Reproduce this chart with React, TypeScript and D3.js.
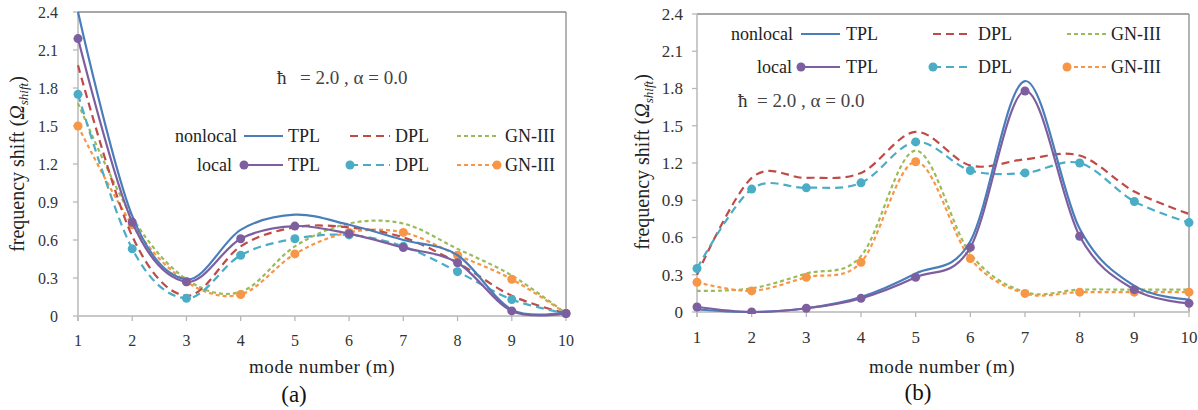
import React from "react";
import * as d3 from "d3";

const modes = [1, 2, 3, 4, 5, 6, 7, 8, 9, 10];
const yTicks = [0, 0.3, 0.6, 0.9, 1.2, 1.5, 1.8, 2.1, 2.4];

// Panel (a)
const aNonlocalTPL = [2.4, 0.79, 0.29, 0.68, 0.8, 0.72, 0.6, 0.48, 0.05, 0.03];
const aLocalTPL = [2.19, 0.74, 0.27, 0.61, 0.71, 0.65, 0.54, 0.42, 0.04, 0.02];
const aNonlocalDPL = [1.98, 0.63, 0.16, 0.55, 0.7, 0.7, 0.62, 0.42, 0.16, 0.02];
const aLocalDPL = [1.75, 0.53, 0.14, 0.48, 0.61, 0.64, 0.55, 0.35, 0.13, 0.02];
const aNonlocalGN = [1.68, 0.78, 0.29, 0.19, 0.55, 0.73, 0.73, 0.53, 0.32, 0.02];
const aLocalGN = [1.5, 0.72, 0.27, 0.17, 0.49, 0.66, 0.66, 0.48, 0.29, 0.02];

// Panel (b)
const bNonlocalTPL = [0.02, 0.0, 0.03, 0.12, 0.31, 0.57, 1.86, 0.67, 0.21, 0.1];
const bLocalTPL = [0.04, 0.0, 0.03, 0.11, 0.28, 0.52, 1.78, 0.61, 0.18, 0.07];
const bNonlocalDPL = [0.3, 1.08, 1.08, 1.12, 1.45, 1.18, 1.23, 1.26, 0.97, 0.79];
const bLocalDPL = [0.35, 0.99, 1.0, 1.04, 1.37, 1.14, 1.12, 1.2, 0.89, 0.72];
const bNonlocalGN = [0.17, 0.19, 0.31, 0.45, 1.3, 0.47, 0.16, 0.18, 0.18, 0.18];
const bLocalGN = [0.24, 0.17, 0.28, 0.4, 1.21, 0.43, 0.15, 0.16, 0.16, 0.16];

const seriesNames = ["TPL", "DPL", "GN-III"];
const groupNames = ["nonlocal", "local"];

const FONT = "Liberation Serif, Tinos, Times New Roman, DejaVu Serif, serif";

type Style = { color: string; dash: string | null; marker: boolean };
const styles: Record<string, Style> = {
  nonlocalTPL: { color: "#4a7ebb", dash: null, marker: false },
  localTPL: { color: "#7d5fa0", dash: null, marker: true },
  nonlocalDPL: { color: "#be4b48", dash: "8,5", marker: false },
  localDPL: { color: "#4bacc6", dash: "8,5", marker: true },
  "nonlocalGN-III": { color: "#9bbb59", dash: "4,3", marker: false },
  "localGN-III": { color: "#f79646", dash: "4,3", marker: true },
};

type Panel = {
  id: string;
  x0: number; x1: number; yTop: number; yBot: number;
  tickFont: number; tickLabelX: number; xTickY: number;
  series: { key: string; values: number[] }[];
  legend: {
    row1: number; row2: number; groupRight: [number, number];
    segs: [number, number][]; textX: number[]; markerAtRight: boolean[];
  };
  annot: { hx: number; tx: number; y: number };
  xTitle: { x: number; y: number };
  yTitle: { x: number; y: number };
  label: { text: string; x: number; y: number };
};

const panels: Panel[] = [
  {
    id: "a", x0: 78, x1: 566, yTop: 12, yBot: 316,
    tickFont: 16, tickLabelX: 58, xTickY: 346,
    series: [
      { key: "nonlocalGN-III", values: aNonlocalGN },
      { key: "localGN-III", values: aLocalGN },
      { key: "nonlocalDPL", values: aNonlocalDPL },
      { key: "localDPL", values: aLocalDPL },
      { key: "nonlocalTPL", values: aNonlocalTPL },
      { key: "localTPL", values: aLocalTPL },
    ],
    legend: {
      row1: 136, row2: 165, groupRight: [237, 232],
      segs: [[244, 283], [350, 390], [457, 497]], textX: [288, 395, 505],
      markerAtRight: [false, false, true],
    },
    annot: { hx: 277, tx: 300, y: 77 },
    xTitle: { x: 322, y: 373 },
    yTitle: { x: 17, y: 164 },
    label: { text: "(a)", x: 294, y: 402 },
  },
  {
    id: "b", x0: 697, x1: 1189, yTop: 14, yBot: 312,
    tickFont: 17, tickLabelX: 683, xTickY: 343,
    series: [
      { key: "nonlocalGN-III", values: bNonlocalGN },
      { key: "localGN-III", values: bLocalGN },
      { key: "nonlocalDPL", values: bNonlocalDPL },
      { key: "localDPL", values: bLocalDPL },
      { key: "nonlocalTPL", values: bNonlocalTPL },
      { key: "localTPL", values: bLocalTPL },
    ],
    legend: {
      row1: 34, row2: 67, groupRight: [793, 792],
      segs: [[801, 840], [933, 972], [1067, 1108]], textX: [846, 978, 1111],
      markerAtRight: [false, false, false],
    },
    annot: { hx: 738, tx: 757, y: 100 },
    xTitle: { x: 942, y: 373 },
    yTitle: { x: 642, y: 162 },
    label: { text: "(b)", x: 918, y: 400 },
  },
];

function PanelView({ p }: { p: Panel }) {
  const x = d3.scaleLinear().domain([1, 10]).range([p.x0, p.x1]);
  const y = d3.scaleLinear().domain([0, 2.4]).range([p.yBot, p.yTop]);
  const line = d3
    .line<number>()
    .x((_, i) => x(modes[i]))
    .y((d) => y(d))
    .curve(d3.curveCardinal.tension(0));
  const clipId = `clip-${p.id}`;
  return (
    <g>
      <defs>
        <clipPath id={clipId}>
          <rect x={p.x0 - 6} y={p.yTop - 6} width={p.x1 - p.x0 + 12} height={p.yBot - p.yTop + 8} />
        </clipPath>
      </defs>
      <line x1={p.x0} x2={p.x1} y1={p.yTop} y2={p.yTop} stroke="#8a8a8a" strokeWidth={1.3} />
      <line x1={p.x1} x2={p.x1} y1={p.yTop} y2={p.yBot} stroke="#8a8a8a" strokeWidth={1.3} />
      <line x1={p.x0} x2={p.x0} y1={p.yTop} y2={p.yBot + 5} stroke="#b8b8b8" strokeWidth={1.5} />
      <line x1={p.x0} x2={p.x1} y1={p.yBot} y2={p.yBot} stroke="#c8c8c8" strokeWidth={2} />
      {yTicks.map((t) => (
        <g key={t}>
          <line x1={p.x0 - 5} x2={p.x0} y1={y(t)} y2={y(t)} stroke="#b8b8b8" strokeWidth={1.3} />
          <text x={p.tickLabelX} y={y(t)} dy="0.35em" textAnchor="end" style={{ fontFamily: FONT }} fontSize={p.tickFont} fill="#333">
            {t === 0 ? "0" : t.toFixed(1)}
          </text>
        </g>
      ))}
      {modes.map((m) => (
        <g key={m}>
          <line x1={x(m)} x2={x(m)} y1={p.yBot} y2={p.yBot + 5} stroke="#b8b8b8" strokeWidth={1.3} />
          <text x={x(m)} y={p.xTickY} textAnchor="middle" style={{ fontFamily: FONT }} fontSize={p.tickFont} fill="#333">
            {m}
          </text>
        </g>
      ))}
      <g clipPath={`url(#${clipId})`}>
        {p.series.map((s) => {
          const st = styles[s.key];
          return (
            <g key={s.key}>
              <path d={line(s.values) || ""} fill="none" stroke={st.color} strokeWidth={2.2}
                strokeDasharray={st.dash || undefined} />
              {st.marker && s.values.map((v, i) => (
                <circle key={i} cx={x(modes[i])} cy={y(v)} r={4.5} fill={st.color} />
              ))}
            </g>
          );
        })}
      </g>
      {groupNames.map((g, gi) => {
        const ry = gi === 0 ? p.legend.row1 : p.legend.row2;
        return (
          <g key={g}>
            <text x={p.legend.groupRight[gi]} y={ry} dy="0.35em" textAnchor="end" style={{ fontFamily: FONT }} fontSize={18} fill="#222">
              {g}
            </text>
            {seriesNames.map((sn, si) => {
              const st = styles[g + sn];
              const [sx1, sx2] = p.legend.segs[si];
              return (
                <g key={sn}>
                  <line x1={sx1} x2={sx2} y1={ry} y2={ry} stroke={st.color} strokeWidth={2.2}
                    strokeDasharray={st.dash || undefined} />
                  {st.marker && (
                    <circle cx={p.legend.markerAtRight[si] ? sx2 : sx1} cy={ry} r={4.5} fill={st.color} />
                  )}
                  <text x={p.legend.textX[si]} y={ry} dy="0.35em" style={{ fontFamily: FONT }} fontSize={18} fill="#222">
                    {sn}
                  </text>
                </g>
              );
            })}
          </g>
        );
      })}
      <text x={p.annot.hx} y={p.annot.y} dy="0.35em" style={{ fontFamily: FONT }} fontSize={19} fill="#333">ħ</text>
      <text x={p.annot.tx} y={p.annot.y} dy="0.35em" style={{ fontFamily: FONT }} fontSize={19} fill="#444">
        = 2.0 , α = 0.0
      </text>
      <text x={p.xTitle.x} y={p.xTitle.y} textAnchor="middle" style={{ fontFamily: FONT }} fontSize={19} fill="#222" letterSpacing={0.6}>
        mode number (m)
      </text>
      <text transform={`translate(${p.yTitle.x},${p.yTitle.y}) rotate(-90)`} textAnchor="middle" dy="0.35em"
        style={{ fontFamily: FONT }} fontSize={20} fill="#222">
        frequency shift (<tspan fontStyle="italic">Ω</tspan>
        <tspan fontStyle="italic" fontSize={13} dy="4">shift</tspan>
        <tspan dy="-4">)</tspan>
      </text>
      <text x={p.label.x} y={p.label.y} textAnchor="middle" style={{ fontFamily: FONT }} fontSize={23} fill="#111">
        {p.label.text}
      </text>
    </g>
  );
}

export default function App() {
  return (
    <svg width={1198} height={410} style={{ position: "absolute", left: 0, top: 0, background: "#fff" }}>
      <rect width={1198} height={410} fill="#fff" />
      {panels.map((p) => (
        <PanelView key={p.id} p={p} />
      ))}
    </svg>
  );
}
